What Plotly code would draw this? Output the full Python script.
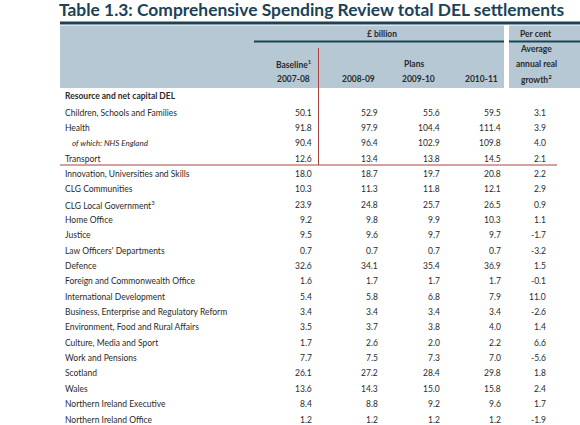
import plotly.graph_objects as go

# ---------------- data ----------------
title_text = "Table 1.3: Comprehensive Spending Review total DEL settlements"
section_label = "Resource and net capital DEL"
departments = [
    "Children, Schools and Families",
    "Health",
    "of which: NHS England",
    "Transport",
    "Innovation, Universities and Skills",
    "CLG Communities",
    "CLG Local Government<sup>3</sup>",
    "Home Office",
    "Justice",
    "Law Officers' Departments",
    "Defence",
    "Foreign and Commonwealth Office",
    "International Development",
    "Business, Enterprise and Regulatory Reform",
    "Environment, Food and Rural Affairs",
    "Culture, Media and Sport",
    "Work and Pensions",
    "Scotland",
    "Wales",
    "Northern Ireland Executive",
    "Northern Ireland Office",
]
baseline_2007_08 = ["50.1", "91.8", "90.4", "12.6", "18.0", "10.3", "23.9", "9.2", "9.5", "0.7", "32.6",
                    "1.6", "5.4", "3.4", "3.5", "1.7", "7.7", "26.1", "13.6", "8.4", "1.2"]
plans_2008_09 = ["52.9", "97.9", "96.4", "13.4", "18.7", "11.3", "24.8", "9.8", "9.6", "0.7", "34.1",
                 "1.7", "5.8", "3.4", "3.7", "2.6", "7.5", "27.2", "14.3", "8.8", "1.2"]
plans_2009_10 = ["55.6", "104.4", "102.9", "13.8", "19.7", "11.8", "25.7", "9.9", "9.7", "0.7", "35.4",
                 "1.7", "6.8", "3.4", "3.8", "2.0", "7.3", "28.4", "15.0", "9.2", "1.2"]
plans_2010_11 = ["59.5", "111.4", "109.8", "14.5", "20.8", "12.1", "26.5", "10.3", "9.7", "0.7", "36.9",
                 "1.7", "7.9", "3.4", "4.0", "2.2", "7.0", "29.8", "15.8", "9.6", "1.2"]
real_growth = ["3.1", "3.9", "4.0", "2.1", "2.2", "2.9", "0.9", "1.1", "-1.7", "-3.2", "1.5",
               "-0.1", "11.0", "-2.6", "1.4", "6.6", "-5.6", "1.8", "2.4", "1.7", "-1.9"]
year_labels = ["2007-08", "2008-09", "2009-10", "2010-11"]

# ---------------- style / layout constants ----------------
W, H = 580, 425
FONT = "Lato"
TXT = "#2a2a2a"
TEAL = "#1c4257"
BAND = "#b5c8d3"
RED = "#a8433f"

left = 60
label_x = 63
col_right = [314, 380, 442, 503]
growth_right = 548
growth_center = 536
row0_y = 112.5
row_step = 15.35

fig = go.Figure()
fig.update_layout(
    width=W, height=H, margin=dict(l=0, r=0, t=0, b=0, pad=0),
    paper_bgcolor="white", plot_bgcolor="white", showlegend=False,
    xaxis=dict(range=[0, W], visible=False, fixedrange=True),
    yaxis=dict(range=[H, 0], visible=False, fixedrange=True),
)

shapes = []
# header bands
shapes.append(dict(type="rect", x0=left, x1=504, y0=25.5, y1=88, fillcolor=BAND, line_width=0, layer="below"))
shapes.append(dict(type="rect", x0=509, x1=W, y0=25.5, y1=88, fillcolor=BAND, line_width=0, layer="below"))
# thick rule under title
shapes.append(dict(type="line", x0=left, x1=W, y0=23, y1=23, line=dict(color=TEAL, width=3)))
# underline of group headers
shapes.append(dict(type="line", x0=254, x1=504, y0=41.5, y1=41.5, line=dict(color=TEAL, width=2)))
shapes.append(dict(type="line", x0=509, x1=W, y0=41.5, y1=41.5, line=dict(color=TEAL, width=2)))
# red lines
shapes.append(dict(type="line", x0=318.5, x1=318.5, y0=48, y1=165, line=dict(color=RED, width=1)))
shapes.append(dict(type="line", x0=left, x1=557, y0=165, y1=165, line=dict(color=RED, width=1)))
fig.update_layout(shapes=shapes)

ann = []
def add(text, x, y, xanchor="left", size=9, bold=False, italic=False, color=TXT, family=FONT):
    t = text
    if bold:
        t = "<b>" + t + "</b>"
    if italic:
        t = "<i>" + t + "</i>"
    ann.append(dict(text=t, x=x, y=y, xref="x", yref="y", xanchor=xanchor, yanchor="middle",
                    showarrow=False, font=dict(family=family, size=size, color=color)))

# title
ann.append(dict(text="<b>" + title_text + "</b>", x=57, y=9, xref="x", yref="y", xanchor="left",
                yanchor="middle", showarrow=False,
                font=dict(family=FONT, size=17.4, color=TEAL)))

# headers
add("£ billion", 382, 34, "center", 8.5, bold=True)
add("Per cent", growth_center, 34, "center", 8.5, bold=True)
add("Average", growth_center, 49, "center", 8.5, bold=True)
add("Baseline<sup>1</sup>", 314, 64, "right", 8.5, bold=True)
add("Plans", 414, 64, "center", 8.5, bold=True)
add("annual real", growth_center, 64, "center", 8.5, bold=True)
for lab, xr in zip(year_labels, [312, 377, 437, 500]):
    add(lab, xr, 79, "right", 8.5, bold=True)
add("growth<sup>2</sup>", growth_center, 79, "center", 8.5, bold=True)

add(section_label, label_x, 96, "left", 8.5, bold=True)

cols = [baseline_2007_08, plans_2008_09, plans_2009_10, plans_2010_11]
for i, name in enumerate(departments):
    y = row0_y + i * row_step
    if name.startswith("of which"):
        add("of which: NHS England", 70, y, "left", 8, italic=True)
    else:
        add(name, label_x, y, "left", 8.5)
    for c, xr in zip(cols, col_right):
        add(c[i], xr, y, "right", 8.5)
    add(real_growth[i], growth_right, y, "right", 8.5)

fig.update_layout(annotations=ann)
fig.write_html("out.html", config={"displayModeBar": False, "staticPlot": True},
               post_script="document.body.style.margin='0';document.body.style.overflow='hidden';")
